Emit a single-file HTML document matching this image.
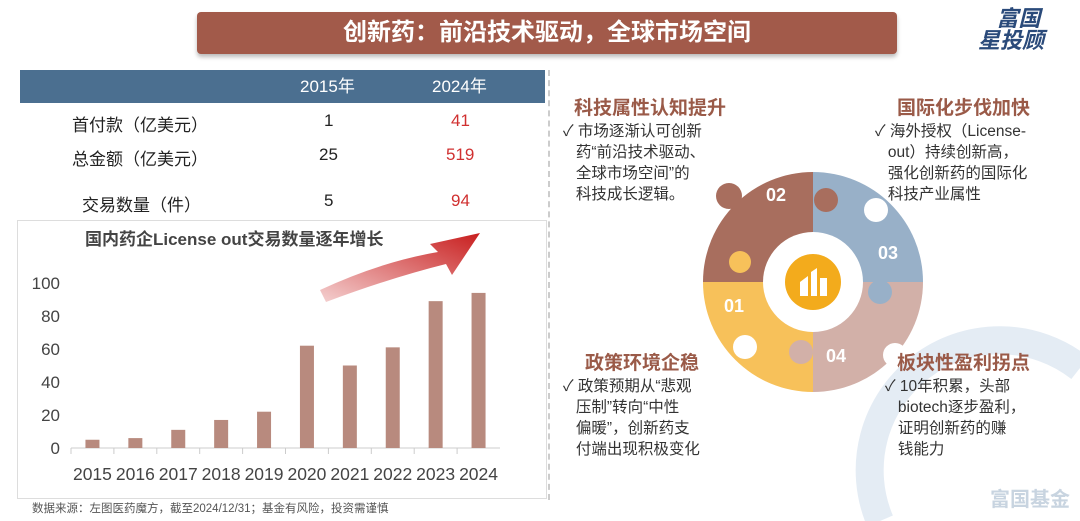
<!DOCTYPE html>
<html style="overflow:hidden"><head><meta charset="utf-8">
<style>
html,body{margin:0;width:1080px;height:521px;overflow:hidden}
body{background:#fff;font-family:"Liberation Sans","Noto Sans CJK SC",sans-serif;position:relative}
.a{position:absolute}
.h{color:#9a5a48;font-weight:bold;font-size:19px}
.t{font-size:15.5px;color:#333;line-height:21px}
</style></head><body>
<div class="a" style="left:197px;top:12px;width:700px;height:42px;background:#a25a4a;border-radius:4px;color:#fff;font-size:24px;font-weight:bold;text-align:center;line-height:42px;box-shadow:0 3px 4px #bbb">创新药：前沿技术驱动，全球市场空间</div>
<div class="a" style="left:978px;top:8px;color:#2a4a7a;font-weight:bold;font-size:22px;line-height:22px;font-style:italic">&nbsp;&nbsp;&nbsp;富国<br>星投顾</div>
<div class="a" style="left:20px;top:70px;width:525px;height:33px;background:#4b6f90;color:#fff;font-size:17px;line-height:33px">
<span class="a" style="left:280px">2015年</span><span class="a" style="left:412px">2024年</span></div>
<div class="a" style="left:20px;top:103px;width:525px;height:115px;font-size:17px;color:#222">
<span class="a" style="left:52px;top:8px">首付款（亿美元）</span><span class="a" style="left:304px;top:8px">1</span><span class="a" style="left:431px;top:8px;color:#d03030">41</span>
<span class="a" style="left:52px;top:42px">总金额（亿美元）</span><span class="a" style="left:299px;top:42px">25</span><span class="a" style="left:426px;top:42px;color:#d03030">519</span>
<span class="a" style="left:62px;top:88px">交易数量（件）</span><span class="a" style="left:304px;top:88px">5</span><span class="a" style="left:431px;top:88px;color:#d03030">94</span>
</div>
<div class="a" style="left:17px;top:220px;width:528px;height:277px;border:1px solid #ddd"></div>
<div class="a" style="left:548px;top:70px;width:0;height:430px;border-left:2px dashed #ccc"></div>
<svg class="a" style="left:0;top:0;display:block" width="1080" height="521" id="svg">
<defs><linearGradient id="ag" x1="0" x2="1" y1="1" y2="0"><stop offset="0" stop-color="#f4d0d0"/><stop offset="1" stop-color="#c81e1e"/></linearGradient></defs>
<path d="M880,521 A130,130 0 0 1 1080,368" fill="none" stroke="#e4ecf4" stroke-width="28"/>
<text x="85" y="245" font-size="17" font-weight="bold" fill="#444">国内药企License out交易数量逐年增长</text>
<path d="M320,290 Q380,262 438,252 L430,244 L480,233 L452,275 L446,264 Q390,278 326,302 Z" fill="url(#ag)"/>
<g id="chart"></g>
<g id="puzzle">
<path d="M813,282 L813,172 A110,110 0 0 0 703,282 Z" fill="#a86e5e"/>
<path d="M813,282 L923,282 A110,110 0 0 0 813,172 Z" fill="#98b0c8"/>
<path d="M813,282 L813,392 A110,110 0 0 0 923,282 Z" fill="#d2b0a8"/>
<path d="M813,282 L703,282 A110,110 0 0 0 813,392 Z" fill="#f7c15a"/>
<circle cx="729" cy="196" r="13" fill="#a86e5e"/><circle cx="826" cy="200" r="12" fill="#a86e5e"/>
<circle cx="876" cy="210" r="12" fill="#fff"/><circle cx="880" cy="292" r="12" fill="#98b0c8"/>
<circle cx="895" cy="355" r="12" fill="#fff"/><circle cx="801" cy="352" r="12" fill="#d2b0a8"/>
<circle cx="740" cy="262" r="11" fill="#f7c15a"/><circle cx="745" cy="347" r="12" fill="#fff"/>
<circle cx="813" cy="282" r="50" fill="#fff"/>
<circle cx="813" cy="282" r="28" fill="#f3ab1c"/>
<path d="M800,296 L800,282 L808,276 L808,296 Z M811,296 L811,272 L817,268 L817,296 Z M820,296 L820,278 L827,278 L827,296 Z" fill="#fff"/>
<g fill="#fff" font-size="18" font-weight="bold" font-family="Liberation Sans,sans-serif">
<text x="766" y="201">02</text><text x="878" y="259">03</text><text x="724" y="312">01</text><text x="826" y="362">04</text></g>
</g>
</svg>
<div class="a h" style="left:574px;top:93px">科技属性认知提升</div>
<div class="a t" style="left:563px;top:121px;width:170px">✓ 市场逐渐认可创新<br>&nbsp;&nbsp;&nbsp;药“前沿技术驱动、<br>&nbsp;&nbsp;&nbsp;全球市场空间”的<br>&nbsp;&nbsp;&nbsp;科技成长逻辑。</div>
<div class="a h" style="left:897px;top:93px">国际化步伐加快</div>
<div class="a t" style="left:875px;top:121px;width:205px">✓ 海外授权（License-<br>&nbsp;&nbsp;&nbsp;out）持续创新高，<br>&nbsp;&nbsp;&nbsp;强化创新药的国际化<br>&nbsp;&nbsp;&nbsp;科技产业属性</div>
<div class="a h" style="left:585px;top:348px">政策环境企稳</div>
<div class="a t" style="left:563px;top:376px;width:180px">✓ 政策预期从“悲观<br>&nbsp;&nbsp;&nbsp;压制”转向“中性<br>&nbsp;&nbsp;&nbsp;偏暖”，创新药支<br>&nbsp;&nbsp;&nbsp;付端出现积极变化</div>
<div class="a h" style="left:897px;top:348px">板块性盈利拐点</div>
<div class="a t" style="left:885px;top:376px;width:190px">✓ 10年积累，头部<br>&nbsp;&nbsp;&nbsp;biotech逐步盈利，<br>&nbsp;&nbsp;&nbsp;证明创新药的赚<br>&nbsp;&nbsp;&nbsp;钱能力</div>
<div class="a" style="left:990px;top:488px;color:#c8d4e0;font-size:20px;line-height:24px;font-weight:bold">富国基金</div>
<div class="a" style="left:32px;top:502px;font-size:11.5px;line-height:14px;color:#555">数据来源：左图医药魔方，截至2024/12/31；基金有风险，投资需谨慎</div>
<script>
const years=["2015","2016","2017","2018","2019","2020","2021","2022","2023","2024"];
const counts=[5,6,11,17,22,62,50,61,89,94];
const yTicks=[0,20,40,60,80,100];
const ns="http://www.w3.org/2000/svg",g=document.getElementById('chart');
const x0=71,x1=500,yb=448,yt=283;
const ys=v=>yb-(v/100)*(yb-yt);
const bw=(x1-x0)/years.length;
function mk(t,a){const e=document.createElementNS(ns,t);for(const k in a)e.setAttribute(k,a[k]);g.appendChild(e);return e;}
const ax=mk('line',{x1:x0,x2:x1,y1:yb,y2:yb,stroke:'#ccc'});


yTicks.forEach(v=>{const t=mk('text',{x:60,y:ys(v)+6,'text-anchor':'end','font-size':17,fill:'#444'});t.textContent=v;

});
years.forEach((y,i)=>{const cx=x0+bw*(i+0.5);
const r=mk('rect',{x:cx-7,y:ys(counts[i]),width:14,height:yb-ys(counts[i]),fill:'#b88a7e'});


mk('line',{x1:x0+bw*i,x2:x0+bw*i,y1:yb,y2:yb+6,stroke:'#ccc'});
const t=mk('text',{x:cx,y:480,'text-anchor':'middle','font-size':17.5,fill:'#444'});t.textContent=y;

});
</script>
</body></html>
